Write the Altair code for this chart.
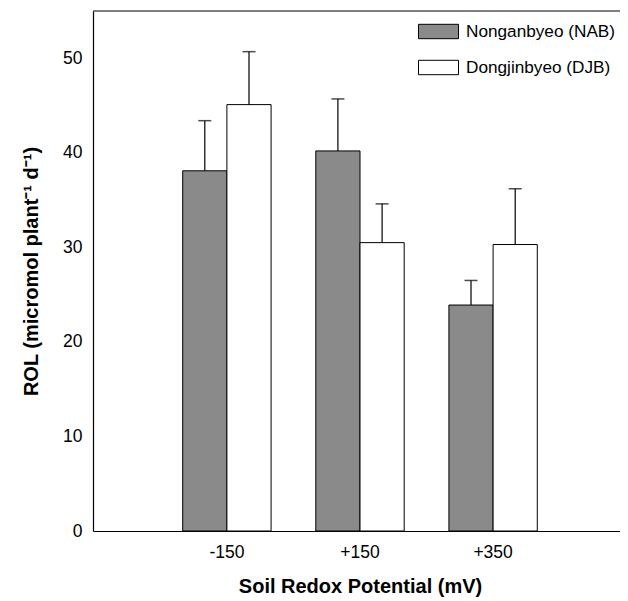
import altair as alt
import pandas as pd

potentials = ["-150", "+150", "+350"]
varieties = ["Nonganbyeo (NAB)", "Dongjinbyeo (DJB)"]
nab_mean = [38.1, 40.2, 23.9]
nab_err = [5.3, 5.5, 2.6]
djb_mean = [45.1, 30.5, 30.3]
djb_err = [5.6, 4.1, 5.9]

rows = []
for i, p in enumerate(potentials):
    rows.append({"potential": p, "variety": varieties[0], "mean": nab_mean[i], "err": nab_err[i]})
    rows.append({"potential": p, "variety": varieties[1], "mean": djb_mean[i], "err": djb_err[i]})
df = pd.DataFrame(rows)

FONT = "Liberation Sans"

x_enc = alt.X("potential:N", sort=potentials,
              scale=alt.Scale(paddingInner=0.336, paddingOuter=0.674),
              axis=alt.Axis(title="Soil Redox Potential (mV)", labelAngle=0, ticks=False,
                            labelPadding=12, titlePadding=16, domain=True,
                            domainColor="black", domainWidth=1.2))
xoff = alt.XOffset("variety:N", sort=varieties)

base = alt.Chart(df)

bars = base.mark_bar(stroke="black", strokeWidth=1).encode(
    x=x_enc,
    xOffset=xoff,
    y=alt.Y("mean:Q", scale=alt.Scale(domain=[0, 55], nice=False),
            axis=alt.Axis(title="ROL (micromol plant⁻¹ d⁻¹)", values=[0, 10, 20, 30, 40, 50],
                          ticks=False, grid=False, domain=True, domainColor="black",
                          domainWidth=1.2, labelPadding=11,
                          minExtent=40, maxExtent=40, titlePadding=12)),
    fill=alt.Fill("variety:N", sort=varieties,
                  scale=alt.Scale(domain=varieties, range=["#8a8a8a", "#ffffff"]),
                  legend=alt.Legend(title=None, orient="none", legendX=325, legendY=0,
                                    padding=0,
                                    symbolType="M-1,-0.36L1,-0.36L1,0.36L-1,0.36Z",
                                    symbolSize=1600, symbolStrokeColor="black",
                                    symbolStrokeWidth=1, labelFontSize=17.2, labelFont=FONT,
                                    labelColor="black", rowPadding=6, labelOffset=7,
                                    labelLimit=300)),
)

whisk = base.transform_calculate(top="datum.mean + datum.err").mark_rule(
    color="black", strokeWidth=1.2).encode(
    x=alt.X("potential:N", sort=potentials),
    xOffset=xoff,
    y="mean:Q",
    y2="top:Q",
)

caps = base.transform_calculate(top="datum.mean + datum.err").mark_tick(
    color="black", thickness=1.5, size=13).encode(
    x=alt.X("potential:N", sort=potentials),
    xOffset=xoff,
    y="top:Q",
)

top_line = alt.Chart(pd.DataFrame({"k": [0]})).mark_rule(
    color="black", strokeWidth=1.2).encode(
    x=alt.value(0), x2=alt.value("width"), y=alt.value(0)
)

chart = alt.layer(bars, whisk, caps, top_line).properties(
    width=612, height=520,
    autosize=alt.AutoSizeParams(type="fit-x", contains="padding"),
    padding={"left": 13, "top": 2, "right": -8, "bottom": 5},
).configure_view(
    strokeWidth=0
).configure_axis(
    labelFont=FONT, labelFontSize=17.5, labelColor="black",
    titleFont=FONT, titleFontSize=20, titleFontWeight="bold", titleColor="black",
)

chart.save("out.html", embed_options={"renderer": "svg", "actions": False})
